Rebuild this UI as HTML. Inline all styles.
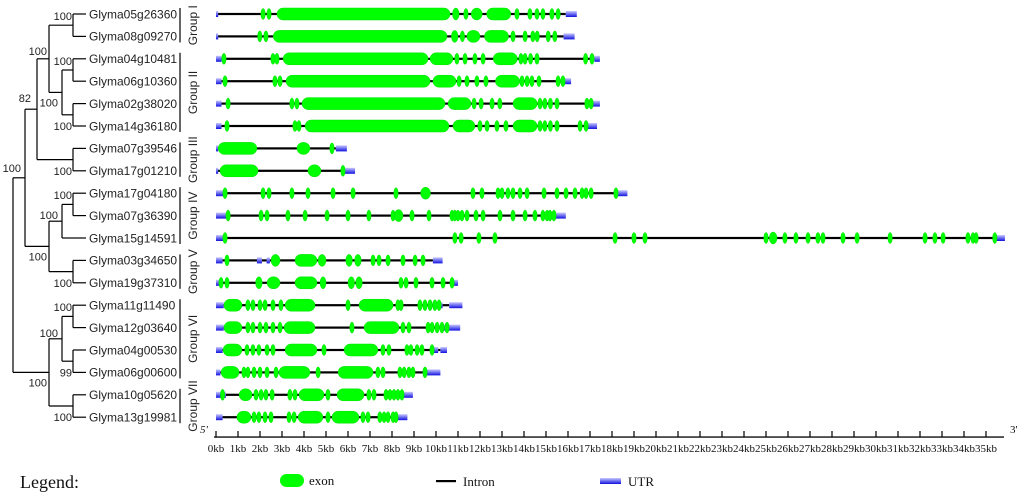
<!DOCTYPE html>
<html><head><meta charset="utf-8"><style>
html,body{margin:0;padding:0;background:#fff;}
svg{display:block;}
.lf{font-family:"Liberation Sans",Arial,sans-serif;font-size:12px;fill:#222;}
.bs{font-family:"Liberation Sans",Arial,sans-serif;font-size:11px;fill:#222;}
.sr{font-family:"Liberation Serif",serif;fill:#111;}
</style></head><body>
<svg id="chart" width="1024" height="498" viewBox="0 0 1024 498" xmlns="http://www.w3.org/2000/svg">
<defs><linearGradient id="utrg" x1="0" y1="0" x2="0" y2="1"><stop offset="0" stop-color="#c8c8ff"/><stop offset="1" stop-color="#1010e0"/></linearGradient></defs>
<g id="tree"></g>
<g id="groups"></g>
<g id="genes"></g>
<g id="axis"></g>
<g id="legend">
<text class="sr" x="20" y="488" font-size="18">Legend:</text>
<rect x="280" y="474" width="24" height="13" rx="6.5" fill="#00ff00"/>
<text class="sr" x="309" y="485" font-size="13">exon</text>
<rect x="436" y="480" width="20" height="2.2" fill="#000"/>
<text class="sr" x="463" y="486" font-size="13">Intron</text>
<rect x="600" y="478" width="21" height="6" fill="url(#utrg)"/>
<text class="sr" x="628" y="486" font-size="13">UTR</text>
</g>
</svg>
<script>
const geneNames=["Glyma05g26360","Glyma08g09270","Glyma04g10481","Glyma06g10360","Glyma02g38020","Glyma14g36180","Glyma07g39546","Glyma17g01210","Glyma17g04180","Glyma07g36390","Glyma15g14591","Glyma03g34650","Glyma19g37310","Glyma11g11490","Glyma12g03640","Glyma04g00530","Glyma06g00600","Glyma10g05620","Glyma13g19981"];
const geneEnds=[15.9,15.8,17.2,15.77,17.05,16.82,5.45,5.86,18.2,15.4,35.4,9.86,10.75,10.6,10.5,10.2,9.55,8.5,8.2];
const utrs=[
[[0,0.1],[15.9,16.4]],[[0,0.1],[15.8,16.3]],[[0,0.25],[17.2,17.45]],[[0,0.25],[15.77,16.14]],[[0,0.25],[17.05,17.45]],[[0,0.25],[16.82,17.32]],
[[0,0.1],[5.45,5.95]],[[0,0.1],[5.86,6.32]],[[0,0.4],[18.2,18.7]],[[0,0.5],[15.4,15.9]],[[0,0.4],[35.4,35.86]],
[[0,0.3],[1.86,2.09],[2.3,2.45],[9.86,10.3]],[[0,0.2],[10.75,11.0]],[[0,0.35],[10.2,10.3],[10.6,11.2]],[[0,0.35],[10.3,10.45],[10.5,11.1]],
[[0,0.3],[9.9,10.1],[10.2,10.5]],[[0,0.2],[9.55,10.2]],[[0,0.25],[0.35,0.45],[8.5,8.95]],[[0,0.3],[8.2,8.7]]];
const exons=[
[2.14,2.41,[2.77,10.64],[10.75,11.05],11.36,[11.6,12.1],[12.3,13.4],13.68,14.27,14.59,14.86,15.27,15.55],
[1.99,2.27,[2.6,10.5],[10.7,11.0],11.2,[11.4,12.0],[12.2,13.3],13.5,14.05,14.4,14.6,15.1,15.4],
[0.36,2.59,2.77,[3.05,9.64],[9.73,10.77],10.95,11.32,11.77,12.14,[12.6,13.7],13.86,14.05,14.3,14.59,16.8,17.09],
[0.41,2.68,2.91,[3.18,9.73],[9.86,10.91],11.05,11.41,11.86,12.27,[12.7,13.8],13.91,14.14,14.36,14.68,15.55,15.77],
[0.55,3.45,3.68,[3.91,10.41],[10.55,11.59],11.73,12.05,12.55,12.9,[13.5,14.6],14.73,14.95,15.2,15.5,16.86,17.05],
[0.5,3.59,3.77,[4.05,10.59],[10.77,11.77],12.0,12.32,12.77,13.18,[13.5,14.6],14.73,14.95,15.2,15.5,16.55,16.82],
[[0.1,1.86],[3.68,4.27],5.27],
[[0.18,1.91],[4.18,4.77],5.77],
[0.41,2.14,2.41,3.45,4.18,5.32,6.23,8.18,[9.3,9.75],11.68,12.09,12.82,13.0,13.27,13.5,13.82,14.14,14.91,15.5,15.91,16.32,16.64,16.82,17.05,18.18],
[0.55,2.05,2.32,3.27,4.05,5.05,6.0,6.95,8.05,[8.1,8.5],8.91,9.68,10.73,10.86,11.0,11.18,11.41,11.82,12.14,12.91,13.5,14.05,14.5,14.86,15.05,15.18,15.36],
[0.41,10.86,11.14,11.95,12.68,18.14,19.0,19.5,25.0,[25.15,25.5],25.86,26.36,26.91,27.36,27.59,28.5,29.14,30.64,32.23,32.68,33.05,34.18,34.41,34.55,35.4],
[0.5,[2.5,2.91],[3.59,4.59],[4.64,5.0],[5.9,6.2],[6.3,6.6],7.14,7.41,7.82,8.5,9.05,9.41],
[0.23,0.5,[1.8,2.1],[2.32,2.91],[3.59,4.59],[4.73,5.0],[6.0,6.3],[6.35,6.65],8.41,8.64,9.09,9.82,10.32,10.73],
[[0.36,1.18],1.45,1.68,2.0,2.23,2.59,2.95,[3.14,4.5],6.0,[6.5,8.05],8.27,8.41,9.27,9.5,9.73,9.95,10.14],
[[0.36,1.18],1.45,1.68,2.0,2.27,2.59,2.91,[3.09,4.5],6.18,[6.73,8.32],8.5,8.77,9.64,9.82,10.05,10.27,10.5],
[[0.32,1.18],1.41,1.68,1.95,2.32,2.59,[3.14,4.59],4.91,[5.82,7.36],7.59,7.86,8.68,8.86,9.14,9.36,9.82],
[[0.23,1.05],1.27,1.45,1.73,2.0,2.32,2.73,[2.86,4.27],4.64,[5.55,7.14],7.36,7.59,8.36,8.55,8.77,8.95,9.5],
[0.3,[1.05,1.64],1.82,2.05,2.27,2.55,3.36,3.59,[3.77,4.91],5.09,[5.5,6.73],6.95,7.18,7.73,7.91,8.09,8.27,8.45],
[[0.95,1.59],1.73,1.95,2.23,2.5,3.32,3.55,[3.73,4.86],5.09,[5.27,6.5],6.68,6.91,7.45,7.64,7.82,8.05,8.18]];
const tickLabels=[];for(let i=0;i<=35;i++)tickLabels.push(i+"kb");
const groupNames=["Group I","Group II","Group III","Group IV","Group V","Group VI","Group VII"];
const groupRanges=[[0,1],[2,5],[6,7],[8,10],[11,12],[13,16],[17,18]];
const bootstrap=["100","100","100","100","82","100","100","100","100","100","100","100","100","100","99","100","100"];

const NS="http://www.w3.org/2000/svg";
const X0=216,KB=22,Y0=14,DY=22.4;
const xs=k=>X0+k*KB, ys=i=>Y0+i*DY;
function mk(tag,at,par){const e=document.createElementNS(NS,tag);for(const k in at)e.setAttribute(k,at[k]);par.appendChild(e);return e;}
const gG=document.getElementById('genes');
geneNames.forEach((n,i)=>{
  const y=ys(i);
  const g=mk('g',{},gG);
  
  
  const l=mk('rect',{x:xs(0),y:y-1.1,width:xs(geneEnds[i])-xs(0),height:2.2,fill:'#000'},g);
  
  
  utrs[i].forEach(u=>{const r=mk('rect',{x:xs(u[0]),y:y-3,width:Math.max(1.5,xs(u[1])-xs(u[0])),height:6,fill:'url(#utrg)'},g);
    
    });
  exons[i].forEach(e=>{let s,t;if(Array.isArray(e)){s=e[0];t=e[1];}else{s=e-0.1;t=e+0.1;}
    const w=xs(t)-xs(s),h=Array.isArray(e)?12:11;
    const r=mk('rect',{x:xs(s),y:y-h/2,width:w,height:h,rx:Math.min(6,w/2),ry:Math.min(h/2,6),fill:'#00ff00',stroke:'#00e000','stroke-width':0.5},g);
    
    });
});
// axis
const gA=document.getElementById('axis');
const AY=437;
mk('rect',{x:214,y:AY-0.6,width:790,height:1.3,fill:'#000'},gA);
tickLabels.forEach((t,i)=>{const x=xs(i);
  const tk=mk('line',{x1:x,y1:AY-6,x2:x,y2:AY,stroke:'#000','stroke-width':1.2},gA);
  
  
  const tx=mk('text',{x:x,y:AY+15,'text-anchor':'middle','class':'sr','font-size':'11'},gA);tx.textContent=t;
  
  });
const p5=mk('text',{x:200,y:433,'class':'sr','font-size':'11','font-style':'italic'},gA);p5.textContent="5'";


const p3=mk('text',{x:1010,y:433,'class':'sr','font-size':'11'},gA);p3.textContent="3'";


// groups
const gR=document.getElementById('groups');
groupNames.forEach((n,j)=>{const a=ys(groupRanges[j][0])-6,b=ys(groupRanges[j][1])+6;
  const l=mk('line',{x1:180,y1:a,x2:180,y2:b,stroke:'#000','stroke-width':1.2},gR);
  
  
  const cy=(a+b)/2;
  const t=mk('text',{x:193,y:cy,'class':'lf','text-anchor':'middle','dominant-baseline':'central',transform:'rotate(-90 193 '+cy+')'},gR);t.textContent=n;
  
  });
// tree
const gT=document.getElementById('tree');
function ln(x1,y1,x2,y2){const l=mk('line',{x1,y1,x2,y2,stroke:'#000','stroke-width':1.2},gT);}
geneNames.forEach((n,i)=>{const y=ys(i);ln(73,y,86,y);
  const t=mk('text',{x:89,y:y+4.3,'class':'lf'},gT);t.textContent=n;
  
  });
function node(x,y1,y2){ln(x,y1,x,y2);}
// cherries
[[0,1],[2,3],[4,5],[6,7],[8,9],[11,12],[13,14],[15,16],[17,18]].forEach(p=>node(73,ys(p[0]),ys(p[1])));
const mA=(ys(0)+ys(1))/2,mB=(ys(2)+ys(3))/2,mC=(ys(4)+ys(5))/2,mF=(ys(6)+ys(7))/2,mH=(ys(8)+ys(9))/2,mJ=(ys(11)+ys(12))/2,mM=(ys(13)+ys(14))/2,mN=(ys(15)+ys(16))/2,mP=(ys(17)+ys(18))/2;
ln(62,mB,73,mB);ln(62,mC,73,mC);node(62,mB,mC);const mD=(mB+mC)/2;
ln(49,mA,73,mA);ln(49,mD,62,mD);node(49,mA,mD);const mE=(mA+mD)/2;
ln(37,mE,49,mE);ln(37,mF,73,mF);node(37,mE,mF);const mG=(mE+mF)/2;
ln(62,mH,73,mH);ln(62,ys(10),73,ys(10));node(62,mH,ys(10));const mI=(mH+ys(10))/2;
ln(49,mI,62,mI);ln(49,mJ,73,mJ);node(49,mI,mJ);const mK=(mI+mJ)/2;
ln(25,mG,37,mG);ln(25,mK,49,mK);node(25,mG,mK);const mL=(mG+mK)/2;
ln(62,mM,73,mM);ln(62,mN,73,mN);node(62,mM,mN);const mO=(mM+mN)/2;
ln(49,mO,62,mO);ln(49,mP,73,mP);node(49,mO,mP);const mQ=(mO+mP)/2;
ln(13,mL,25,mL);ln(13,mQ,49,mQ);node(13,mL,mQ);
const bpos=[[72,ys(0)+6],[47,mE-4],[72,ys(2)+6],[58,mD+14],[31,mG-7],[72,ys(5)+4],[72,ys(7)+4],[21,mL-6],[72,ys(8)+6],[58,mI-2],[47,mK+14],[72,ys(12)+4],[72,ys(13)+6],[58,mO-2],[72,ys(16)+4],[47,mQ+14],[72,ys(18)+4]];
bootstrap.forEach((b,i)=>{const t=mk('text',{x:bpos[i][0],y:bpos[i][1],'class':'bs','text-anchor':'end'},gT);t.textContent=b;
  
  });
</script>
</body></html>
